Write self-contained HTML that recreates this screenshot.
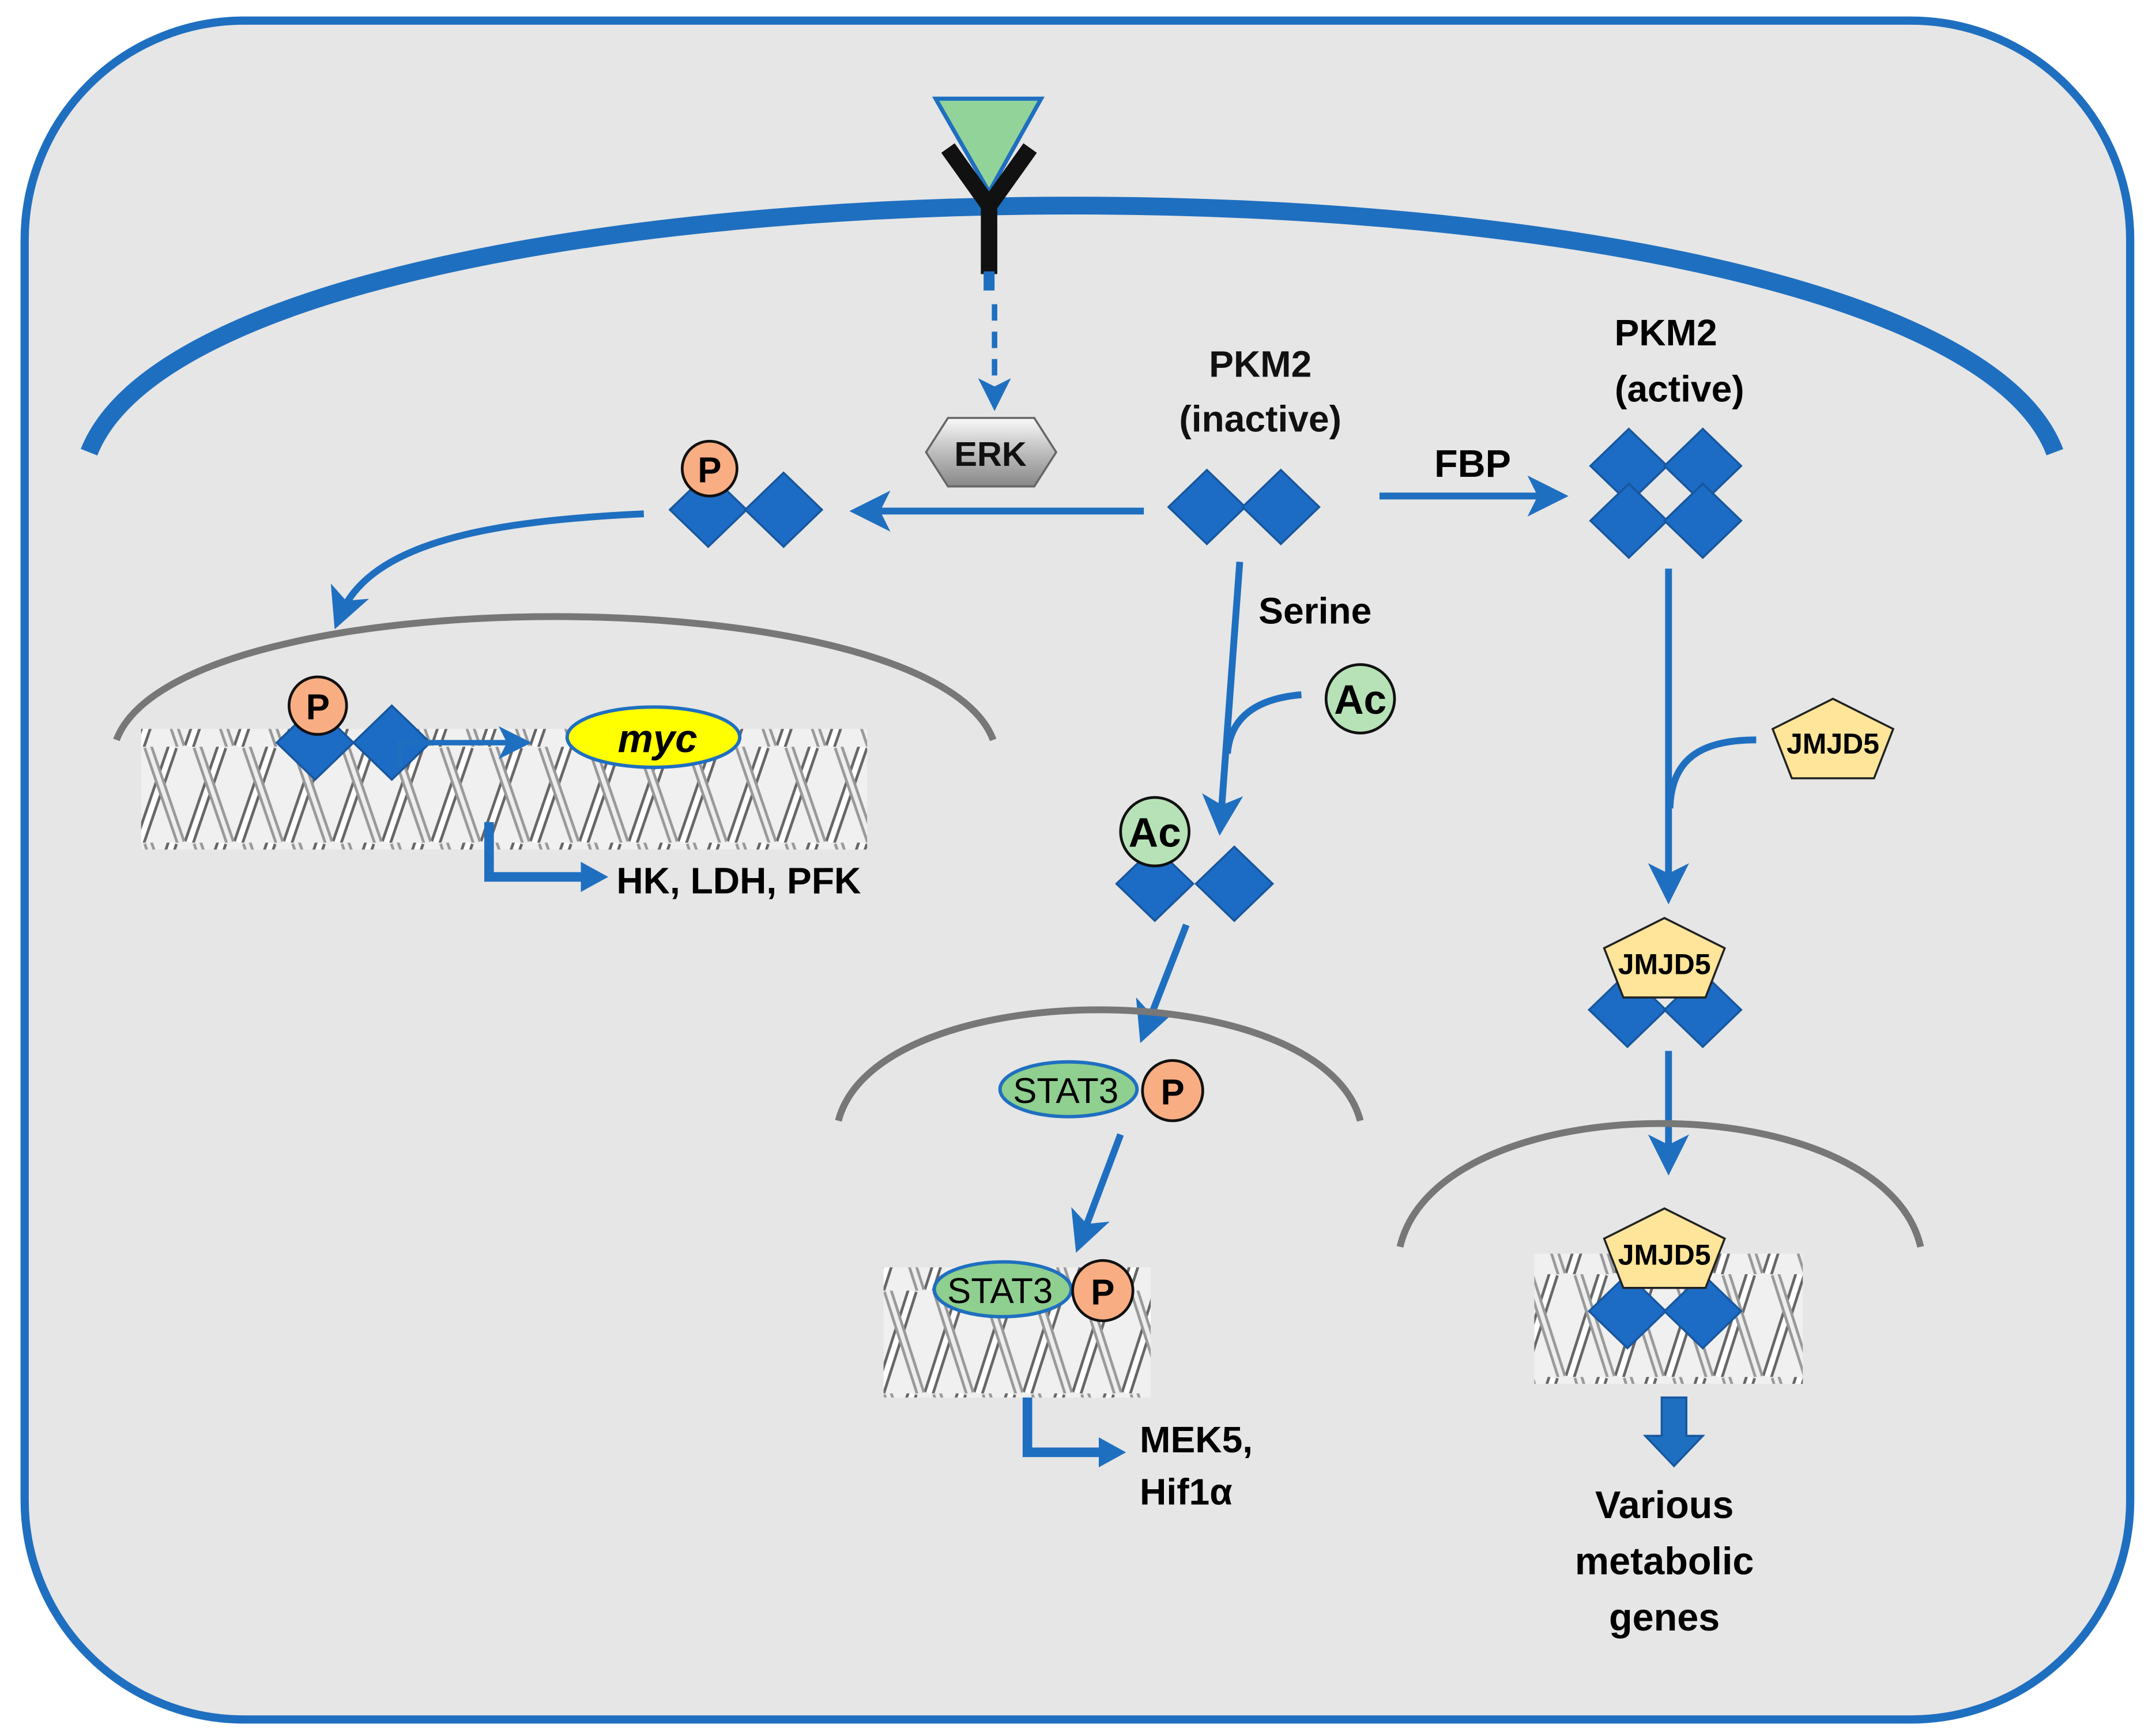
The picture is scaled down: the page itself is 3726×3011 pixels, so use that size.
<!DOCTYPE html>
<html><head><meta charset="utf-8"><style>html,body{margin:0;padding:0;background:#fff}svg{display:block}</style></head>
<body>
<svg width="3726" height="3011" viewBox="0 0 1568 1267" xmlns="http://www.w3.org/2000/svg" font-family="'Liberation Sans', sans-serif">
<defs>
<marker id="ah" markerWidth="6" markerHeight="6" refX="4" refY="3" orient="auto" markerUnits="strokeWidth"><path d="M0,0 L6,3 L0,6 L1.5,3 z" fill="#1f6fc0"/></marker>
<marker id="ah2" markerWidth="20" markerHeight="22" refX="8" refY="11" orient="auto" markerUnits="userSpaceOnUse"><path d="M0,0 L20,11 L0,22 z" fill="#1f6fc0"/></marker>
<pattern id="dna1" patternUnits="userSpaceOnUse" x="0" y="545" width="36" height="70">
<rect width="36" height="70" fill="#f0f0f0"/>
<path d="M-6,70 L18,0 M30,70 L54,0" stroke="#666" stroke-width="8"/>
<path d="M-6,70 L18,0 M30,70 L54,0" stroke="#fff" stroke-width="4"/>
<path d="M0,0 L24,70 M-36,0 L-12,70 M36,0 L60,70" stroke="#999" stroke-width="7"/>
<path d="M0,0 L24,70 M-36,0 L-12,70 M36,0 L60,70" stroke="#eee" stroke-width="3"/>
</pattern>
<pattern id="dna2" patternUnits="userSpaceOnUse" x="0" y="942" width="36" height="75">
<rect width="36" height="75" fill="#f0f0f0"/>
<path d="M-6,75 L18,0 M30,75 L54,0" stroke="#666" stroke-width="8"/>
<path d="M-6,75 L18,0 M30,75 L54,0" stroke="#fff" stroke-width="4"/>
<path d="M0,0 L24,75 M-36,0 L-12,75 M36,0 L60,75" stroke="#999" stroke-width="7"/>
<path d="M0,0 L24,75 M-36,0 L-12,75 M36,0 L60,75" stroke="#eee" stroke-width="3"/>
</pattern>
<pattern id="dna3" patternUnits="userSpaceOnUse" x="0" y="930" width="36" height="75">
<rect width="36" height="75" fill="#f0f0f0"/>
<path d="M-6,75 L18,0 M30,75 L54,0" stroke="#666" stroke-width="8"/>
<path d="M-6,75 L18,0 M30,75 L54,0" stroke="#fff" stroke-width="4"/>
<path d="M0,0 L24,75 M-36,0 L-12,75 M36,0 L60,75" stroke="#999" stroke-width="7"/>
<path d="M0,0 L24,75 M-36,0 L-12,75 M36,0 L60,75" stroke="#eee" stroke-width="3"/>
</pattern>
<linearGradient id="erk" x1="0" y1="0" x2="0" y2="1"><stop offset="0" stop-color="#fafafa"/><stop offset="0.5" stop-color="#bdbdbd"/><stop offset="1" stop-color="#888"/></linearGradient>
<g id="dia"><path d="M0,-27 L28,0 L0,27 L-28,0 z" fill="#1c6cc6" stroke="#17579e" stroke-width="1.5"/></g>
<g id="pent"><path d="M0,-30 L44,-8 L30,28 L-30,28 L-44,-8 z" fill="#ffe599" stroke="#222" stroke-width="1.5"/></g>
</defs>
<rect x="0" y="0" width="1568" height="1267" fill="#fff"/>
<rect x="18" y="15" width="1537" height="1240" rx="160" fill="#e6e6e6" stroke="#1f6fc0" stroke-width="6"/>
<path d="M65,330 C160,90 1410,90 1500,330" fill="none" stroke="#1f6fc0" stroke-width="13"/>
<polygon points="683,72 760,72 722,140" fill="#92d39a" stroke="#1f6fc0" stroke-width="3"/>
<path d="M692,108 L722,150 L752,108" fill="none" stroke="#111" stroke-width="12"/>
<line x1="722" y1="148" x2="722" y2="200" stroke="#111" stroke-width="12"/>
<line x1="722" y1="198" x2="722" y2="212" stroke="#1f6fc0" stroke-width="8"/>
<line x1="726" y1="222" x2="726" y2="292" stroke="#1f6fc0" stroke-width="4" stroke-dasharray="12,8" marker-end="url(#ah)"/>
<polygon points="676,330 692,305 755,305 771,330 755,355 692,355" fill="url(#erk)" stroke="#666" stroke-width="1.5"/>
<text x="723" y="340" font-size="25" font-weight="bold" text-anchor="middle" fill="#111">ERK</text>
<text x="920" y="275" font-size="27" font-weight="bold" text-anchor="middle" fill="#111">PKM2</text>
<text x="920" y="315" font-size="27" font-weight="bold" text-anchor="middle" fill="#111">(inactive)</text>
<use href="#dia" x="881" y="370"/><use href="#dia" x="935" y="370"/>
<line x1="835" y1="373" x2="630" y2="373" stroke="#1f6fc0" stroke-width="5" marker-end="url(#ah)"/>
<use href="#dia" x="517" y="372"/><use href="#dia" x="572" y="372"/>
<circle cx="518" cy="342" r="20" fill="#f8ad82" stroke="#111" stroke-width="2"/>
<text x="518" y="352" font-size="26" font-weight="bold" text-anchor="middle">P</text>
<line x1="1007" y1="362" x2="1135" y2="362" stroke="#1f6fc0" stroke-width="5" marker-end="url(#ah)"/>
<text x="1075" y="348" font-size="28" font-weight="bold" text-anchor="middle">FBP</text>
<text x="1216" y="252" font-size="27" font-weight="bold" text-anchor="middle">PKM2</text>
<text x="1226" y="293" font-size="27" font-weight="bold" text-anchor="middle">(active)</text>
<use href="#dia" x="1189" y="340"/><use href="#dia" x="1243" y="340"/>
<use href="#dia" x="1189" y="380"/><use href="#dia" x="1243" y="380"/>
<path d="M470,375 C360,380 270,395 248,450" fill="none" stroke="#1f6fc0" stroke-width="5" marker-end="url(#ah)"/>
<path d="M85,540 C130,420 680,420 725,540" fill="none" stroke="#777" stroke-width="5"/>
<rect x="103" y="532" width="530" height="88" fill="url(#dna1)"/>
<use href="#dia" x="230" y="542"/><use href="#dia" x="286" y="542"/>
<circle cx="232" cy="515" r="21" fill="#f8ad82" stroke="#111" stroke-width="2"/>
<text x="232" y="525" font-size="26" font-weight="bold" text-anchor="middle">P</text>
<path d="M292,560 L292,542 L380,542" fill="none" stroke="#1f6fc0" stroke-width="4" marker-end="url(#ah)"/>
<ellipse cx="477" cy="538" rx="63" ry="22" fill="#ffff00" stroke="#1f6fc0" stroke-width="2.5"/>
<text x="480" y="549" font-size="29" font-weight="bold" font-style="italic" text-anchor="middle">myc</text>
<path d="M357,600 L357,640 L432,640" fill="none" stroke="#1f6fc0" stroke-width="7" marker-end="url(#ah2)"/>
<text x="450" y="652" font-size="27" font-weight="bold">HK, LDH, PFK</text>
<line x1="905" y1="410" x2="891" y2="600" stroke="#1f6fc0" stroke-width="5" marker-end="url(#ah)"/>
<text x="960" y="455" font-size="27" font-weight="bold" text-anchor="middle">Serine</text>
<path d="M950,507 C915,510 898,525 896,550" fill="none" stroke="#1f6fc0" stroke-width="5"/>
<circle cx="993" cy="510" r="25" fill="#b7e2b7" stroke="#111" stroke-width="2"/>
<text x="993" y="521" font-size="30" font-weight="bold" text-anchor="middle">Ac</text>
<use href="#dia" x="843" y="645"/><use href="#dia" x="901" y="645"/>
<circle cx="843" cy="607" r="25" fill="#b7e2b7" stroke="#111" stroke-width="2"/>
<text x="843" y="618" font-size="30" font-weight="bold" text-anchor="middle">Ac</text>
<line x1="866" y1="675" x2="836" y2="752" stroke="#1f6fc0" stroke-width="5" marker-end="url(#ah)"/>
<path d="M612,818 C640,710 965,710 993,818" fill="none" stroke="#777" stroke-width="5"/>
<ellipse cx="780" cy="795" rx="50" ry="20" fill="#8fcf8f" stroke="#1f6fc0" stroke-width="2.5"/>
<text x="778" y="805" font-size="26" text-anchor="middle">STAT3</text>
<circle cx="856" cy="796" r="22" fill="#f8ad82" stroke="#111" stroke-width="2"/>
<text x="856" y="806" font-size="26" font-weight="bold" text-anchor="middle">P</text>
<line x1="818" y1="828" x2="789" y2="905" stroke="#1f6fc0" stroke-width="5" marker-end="url(#ah)"/>
<rect x="645" y="925" width="195" height="95" fill="url(#dna2)"/>
<ellipse cx="732" cy="941" rx="50" ry="20" fill="#8fcf8f" stroke="#1f6fc0" stroke-width="2.5"/>
<text x="730" y="951" font-size="26" text-anchor="middle">STAT3</text>
<circle cx="805" cy="942" r="22" fill="#f8ad82" stroke="#111" stroke-width="2"/>
<text x="805" y="952" font-size="26" font-weight="bold" text-anchor="middle">P</text>
<path d="M750,1020 L750,1060 L810,1060" fill="none" stroke="#1f6fc0" stroke-width="7" marker-end="url(#ah2)"/>
<text x="832" y="1060" font-size="27" font-weight="bold">MEK5,</text>
<text x="832" y="1098" font-size="27" font-weight="bold">Hif1α</text>
<line x1="1218" y1="415" x2="1218" y2="650" stroke="#1f6fc0" stroke-width="5" marker-end="url(#ah)"/>
<path d="M1282,540 C1240,540 1220,555 1219,590" fill="none" stroke="#1f6fc0" stroke-width="5"/>
<use href="#pent" x="1338" y="540"/>
<text x="1338" y="550" font-size="21" font-weight="bold" text-anchor="middle">JMJD5</text>
<use href="#dia" x="1188" y="737"/><use href="#dia" x="1243" y="737"/>
<use href="#pent" x="1215" y="700"/>
<text x="1215" y="711" font-size="21" font-weight="bold" text-anchor="middle">JMJD5</text>
<line x1="1218" y1="767" x2="1218" y2="848" stroke="#1f6fc0" stroke-width="5" marker-end="url(#ah)"/>
<path d="M1022,910 C1050,790 1374,790 1402,910" fill="none" stroke="#777" stroke-width="5"/>
<rect x="1120" y="915" width="196" height="95" fill="url(#dna3)"/>
<use href="#dia" x="1188" y="957"/><use href="#dia" x="1243" y="957"/>
<use href="#pent" x="1215" y="912"/>
<text x="1215" y="923" font-size="21" font-weight="bold" text-anchor="middle">JMJD5</text>
<polygon points="1213,1020 1231,1020 1231,1048 1243,1048 1222,1070 1201,1048 1213,1048" fill="#1f6fc0" stroke="#17579e" stroke-width="1.5"/>
<text x="1215" y="1108" font-size="28" font-weight="bold" text-anchor="middle">Various</text>
<text x="1215" y="1149" font-size="28" font-weight="bold" text-anchor="middle">metabolic</text>
<text x="1215" y="1190" font-size="28" font-weight="bold" text-anchor="middle">genes</text>
</svg>
</body></html>
